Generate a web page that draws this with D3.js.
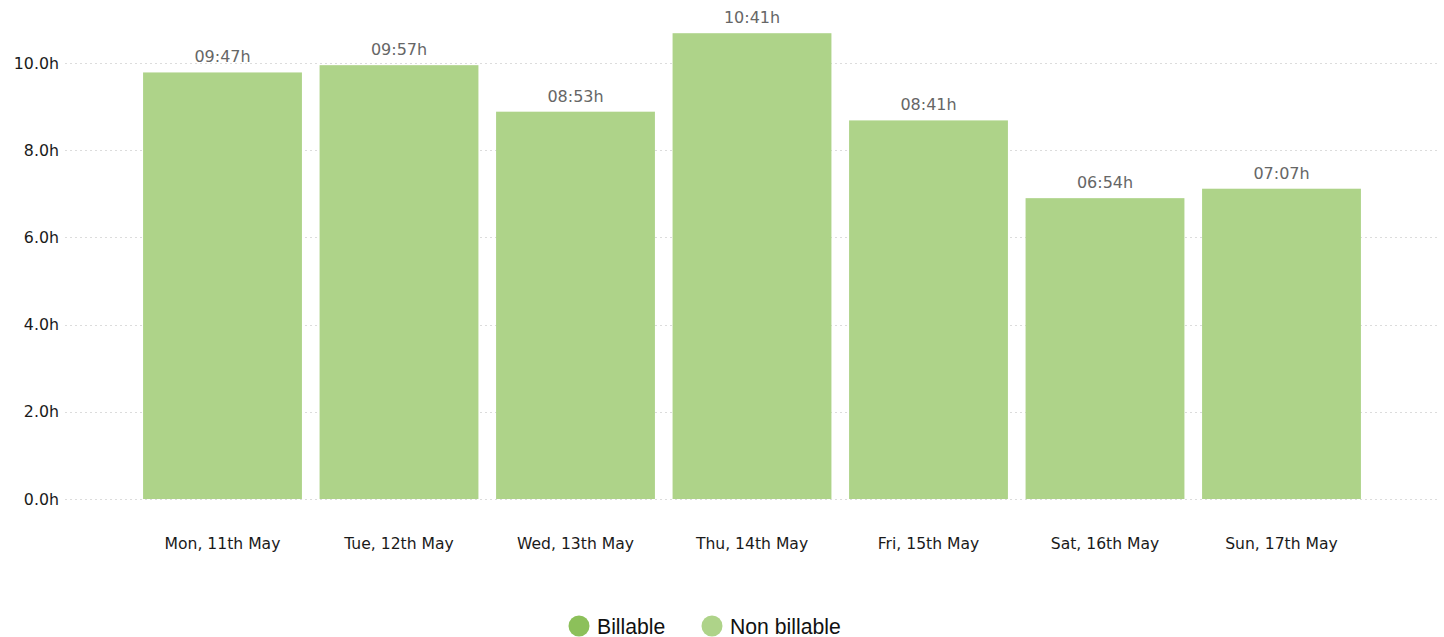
<!DOCTYPE html>
<html><head><meta charset="utf-8">
<script src="https://cdn.jsdelivr.net/npm/d3@7"></script>
<style>body{margin:0;background:#fff}svg{display:block}</style>
</head><body>
<svg id="c" width="1444" height="637"></svg>
<script>
const categories = ["Mon, 11th May","Tue, 12th May","Wed, 13th May","Thu, 14th May","Fri, 15th May","Sat, 16th May","Sun, 17th May"];
const durationLabels = ["09:47","09:57","08:53","10:41","08:41","06:54","07:07"];
const billableHours = [0,0,0,0,0,0,0];
const yTicks = [0,2,4,6,8,10];
const legendItems = ["Billable","Non billable"];

const toHours = s => { const [h,m] = s.split(":").map(Number); return h + m/60; };
const nonBillableHours = durationLabels.map(toHours);

const svg = d3.select("#c");
const y0 = 499, yTop = 63.0;
const y = d3.scaleLinear().domain([0,10]).range([y0, yTop]);
const x = d3.scaleBand().domain(categories).range([134.25,1369.75]).paddingInner(0.1).paddingOuter(0.05);
const font = "'DejaVu Sans', Verdana, sans-serif";

// grid
svg.append("g").selectAll("line").data(yTicks).join("line")
  .attr("x1",65).attr("x2",1437)
  .attr("y1",d=>Math.round(y(d))+0.5).attr("y2",d=>Math.round(y(d))+0.5)
  .attr("stroke","#dcdcdc").attr("stroke-width",1).attr("stroke-dasharray","2,3");

// y labels
svg.append("g").selectAll("text").data(yTicks).join("text")
  .attr("x",59).attr("y",d=>y(d)+5.5)
  .attr("text-anchor","end").attr("font-family",font).attr("font-size",15.8).attr("fill","#1a1a1a")
  .text(d=>d.toFixed(1)+"h");

// bars
const colors = {"Billable":"#8cc05a","Non billable":"#aed389"};
svg.append("g").selectAll("rect").data(categories).join("rect")
  .attr("x",d=>x(d)).attr("width",x.bandwidth())
  .attr("y",(d,i)=>y(billableHours[i]+nonBillableHours[i]))
  .attr("height",(d,i)=>y0 - y(nonBillableHours[i]))
  .attr("fill",colors["Non billable"]);

// value labels
svg.append("g").selectAll("text").data(categories).join("text")
  .attr("x",d=>x(d)+x.bandwidth()/2)
  .attr("y",(d,i)=>y(billableHours[i]+nonBillableHours[i])-10)
  .attr("text-anchor","middle").attr("font-family",font).attr("font-size",16).attr("fill","#666")
  .text((d,i)=>durationLabels[i]+"h");

// x labels
svg.append("g").selectAll("text").data(categories).join("text")
  .attr("x",d=>x(d)+x.bandwidth()/2).attr("y",548.5)
  .attr("text-anchor","middle").attr("font-family",font).attr("font-size",15.6).attr("fill","#1a1a1a")
  .text(d=>d);

// legend
const lg = svg.append("g").attr("font-family","'Liberation Sans', Arial, sans-serif").attr("font-size",21.2);
const legendX = [579, 712];
legendItems.forEach((k,i)=>{
  lg.append("circle").attr("cx",legendX[i]).attr("cy",626).attr("r",10.5).attr("fill",colors[k]);
  lg.append("text").attr("x",legendX[i]+18).attr("y",634).attr("fill","#111").text(k);
});
</script>
</body></html>
